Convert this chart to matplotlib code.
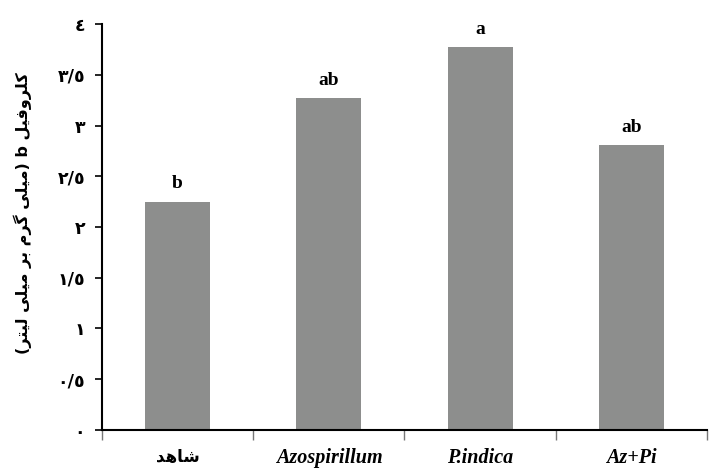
import matplotlib
matplotlib.use('Agg')
import matplotlib.pyplot as plt

categories = ['شاهد', 'Azospirillum', 'P.indica', 'Az+Pi']
values = [2.25, 3.27, 3.77, 2.81]
letters = ['b', 'ab', 'a', 'ab']
ytick_vals = [0, 0.5, 1, 1.5, 2, 2.5, 3, 3.5, 4]
ytick_labels = ['٠', '٠/٥', '١', '١/٥', '٢', '٢/٥', '٣', '٣/٥', '٤']
ylabel_text = 'کلروفیل b (میلی گرم بر میلی لیتر)'

# Arabic presentation forms: isolated, final, initial, medial
FORMS = {
    'ک': ('\uFB8E', '\uFB8F', '\uFB90', '\uFB91'),
    'گ': ('\uFB92', '\uFB93', '\uFB94', '\uFB95'),
    'ی': ('\uFBFC', '\uFBFD', '\uFBFE', '\uFBFF'),
    'ل': ('\uFEDD', '\uFEDE', '\uFEDF', '\uFEE0'),
    'ف': ('\uFED1', '\uFED2', '\uFED3', '\uFED4'),
    'م': ('\uFEE1', '\uFEE2', '\uFEE3', '\uFEE4'),
    'ب': ('\uFE8F', '\uFE90', '\uFE91', '\uFE92'),
    'ت': ('\uFE95', '\uFE96', '\uFE97', '\uFE98'),
    'ش': ('\uFEB5', '\uFEB6', '\uFEB7', '\uFEB8'),
    'ه': ('\uFEE9', '\uFEEA', '\uFEEB', '\uFEEC'),
    'ر': ('\uFEAD', '\uFEAE'),
    'و': ('\uFEED', '\uFEEE'),
    'ا': ('\uFE8D', '\uFE8E'),
    'د': ('\uFEA9', '\uFEAA'),
}


def shape(s):
    out = []
    for i, c in enumerate(s):
        if c not in FORMS:
            out.append(c)
            continue
        prev = s[i - 1] if i > 0 else None
        nxt = s[i + 1] if i + 1 < len(s) else None
        f = FORMS[c]
        jp = prev in FORMS and len(FORMS[prev]) == 4
        jn = len(f) == 4 and nxt in FORMS
        if jp and jn:
            g = f[3]
        elif jp:
            g = f[1]
        elif jn:
            g = f[2]
        else:
            g = f[0]
        out.append(g)
    vis = ''.join(reversed(out))
    return vis.translate(str.maketrans({'(': ')', ')': '('}))


fig = plt.figure(figsize=(7.1, 4.69), dpi=100)
ax = fig.add_axes([0.1437, 0.0832, 0.852, 0.8656])

x = list(range(len(categories)))
bars = ax.bar(x, values, width=0.43, color='#8d8e8d', edgecolor='none')
for xi, v, l in zip(x, values, letters):
    ax.annotate(l, (xi, v), xytext=(0, 9.5), textcoords='offset points',
                ha='center', va='baseline', fontsize=14, fontweight='bold',
                family='Liberation Serif')

ax.set_xlim(-0.5, 3.5)
ax.set_ylim(0, 4)
ax.set_yticks(ytick_vals)
ax.set_yticklabels(ytick_labels, fontsize=12.5, fontweight='bold', family='DejaVu Sans')
ax.tick_params(axis='y', direction='out', length=5, width=1.2, pad=7)

ax.set_xticks(x)
ax.set_xticklabels([shape(c) if i == 0 else c for i, c in enumerate(categories)])
for i, t in enumerate(ax.get_xticklabels()):
    if i == 0:
        t.set_family('DejaVu Sans')
        t.set_fontweight('bold')
        t.set_fontsize(12)
    else:
        t.set_family('Liberation Serif')
        t.set_fontweight('bold')
        t.set_fontstyle('italic')
        t.set_fontsize(14.5)
ax.tick_params(axis='x', which='major', length=0, pad=13)
ax.set_xticks([-0.5, 0.5, 1.5, 2.5, 3.5], minor=True)
ax.tick_params(axis='x', which='minor', direction='out', length=7, width=1.0, color='#777777')

for sp in ['top', 'right']:
    ax.spines[sp].set_visible(False)
for sp in ['left', 'bottom']:
    ax.spines[sp].set_linewidth(1.5)
    ax.spines[sp].set_color('black')

ax.set_ylabel(shape(ylabel_text), fontsize=11.5, fontweight='bold', family='DejaVu Sans')
ax.yaxis.set_label_coords(-0.115, 0.535)

fig.savefig('out.png', dpi=100)
